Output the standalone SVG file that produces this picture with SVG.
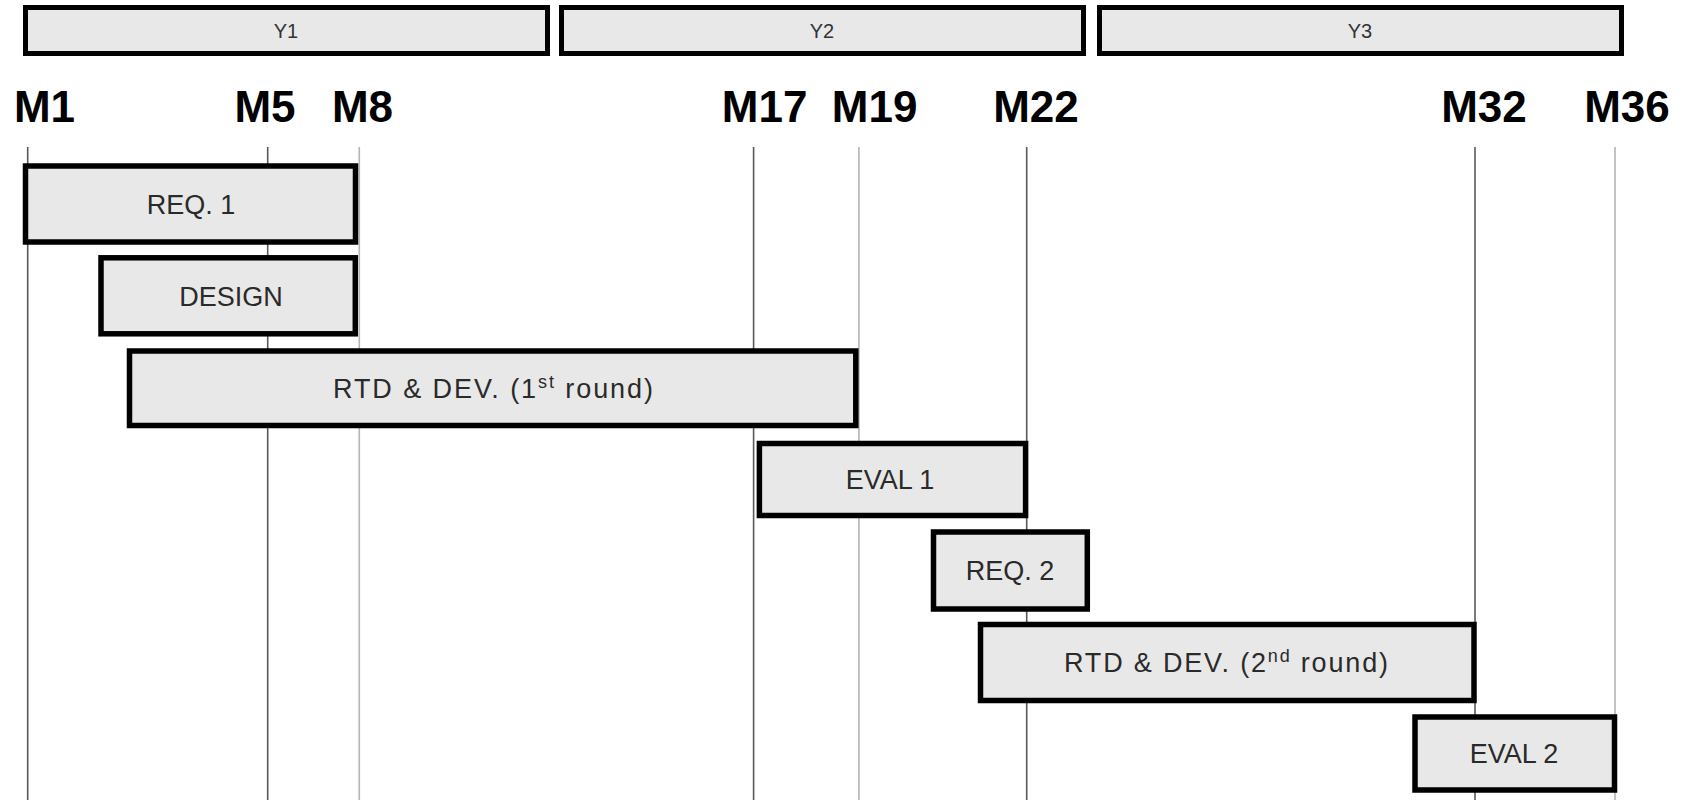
<svg xmlns="http://www.w3.org/2000/svg" width="1686" height="800" viewBox="0 0 1686 800">
<style>
  .bar { fill: #e8e8e8; stroke: #000; stroke-width: 5; }
  .box { fill: #e8e8e8; stroke: #000; stroke-width: 5.5; }
  .ylab { font-family: "Liberation Sans", Arial, sans-serif; font-size: 20px; fill: #333; text-anchor: middle; }
  .mlab { font-family: "Liberation Sans", Arial, sans-serif; font-size: 44px; font-weight: bold; fill: #000; text-anchor: middle; }
  .blab { font-family: "Liberation Sans", Arial, sans-serif; font-size: 27px; fill: #2a2a2a; text-anchor: middle; }
  .gdark { stroke: #5a5a5a; stroke-width: 1.6; }
  .glight { stroke: #b4b4b4; stroke-width: 1.6; }
</style>
<rect width="1686" height="800" fill="#fff"/>

<g id="years">
  <g id="Y1"><rect class="bar" x="25.5" y="7.5" width="522" height="46"/><text class="ylab" x="286" y="38">Y1</text></g>
  <g id="Y2"><rect class="bar" x="561.5" y="7.5" width="522" height="46"/><text class="ylab" x="822" y="38">Y2</text></g>
  <g id="Y3"><rect class="bar" x="1099.5" y="7.5" width="522" height="46"/><text class="ylab" x="1360" y="38">Y3</text></g>
</g>

<g id="months">
  <text class="mlab" x="44.5" y="121.5">M1</text>
  <text class="mlab" x="265" y="121.5">M5</text>
  <text class="mlab" x="362.5" y="121.5">M8</text>
  <text class="mlab" x="764.6" y="121.5">M17</text>
  <text class="mlab" x="874.6" y="121.5">M19</text>
  <text class="mlab" x="1036" y="121.5">M22</text>
  <text class="mlab" x="1484" y="121.5">M32</text>
  <text class="mlab" x="1627" y="121.5">M36</text>
</g>

<g id="connectors">
  <line class="gdark" x1="27.7" y1="147" x2="27.7" y2="800"/>
  <line class="gdark" x1="267.7" y1="147" x2="267.7" y2="800"/>
  <line class="glight" x1="359.3" y1="147" x2="359.3" y2="800"/>
  <line class="gdark" x1="753.6" y1="147" x2="753.6" y2="800"/>
  <line class="glight" x1="858.9" y1="147" x2="858.9" y2="800"/>
  <line class="gdark" x1="1026.7" y1="147" x2="1026.7" y2="800"/>
  <line class="gdark" x1="1475" y1="147" x2="1475" y2="800"/>
  <line class="glight" x1="1615" y1="147" x2="1615" y2="800"/>
</g>

<g id="req1"><rect class="box" x="25.5" y="166" width="330" height="76"/><text class="blab" x="191" y="213.5">REQ. 1</text></g>
<g id="design"><rect class="box" x="101" y="257.8" width="254.3" height="76"/><text class="blab" x="231" y="305.5">DESIGN</text></g>
<g id="rtd1"><rect class="box" x="129.5" y="351" width="726.3" height="74.5"/><text class="blab" x="493" y="398" textLength="320" lengthAdjust="spacing">RTD &amp; DEV. (1<tspan font-size="18" dy="-10">st</tspan><tspan dy="10"> round)</tspan></text></g>
<g id="eval1"><rect class="box" x="759.4" y="443.5" width="266.2" height="72"/><text class="blab" x="890" y="489">EVAL 1</text></g>
<g id="req2"><rect class="box" x="933.5" y="532" width="153.8" height="77"/><text class="blab" x="1010" y="580">REQ. 2</text></g>
<g id="rtd2"><rect class="box" x="980.5" y="624.5" width="493.5" height="76"/><text class="blab" x="1226" y="672" textLength="324" lengthAdjust="spacing">RTD &amp; DEV. (2<tspan font-size="18" dy="-10">nd</tspan><tspan dy="10"> round)</tspan></text></g>
<g id="eval2"><rect class="box" x="1415" y="717" width="199.5" height="73"/><text class="blab" x="1514" y="763">EVAL 2</text></g>
</svg>
